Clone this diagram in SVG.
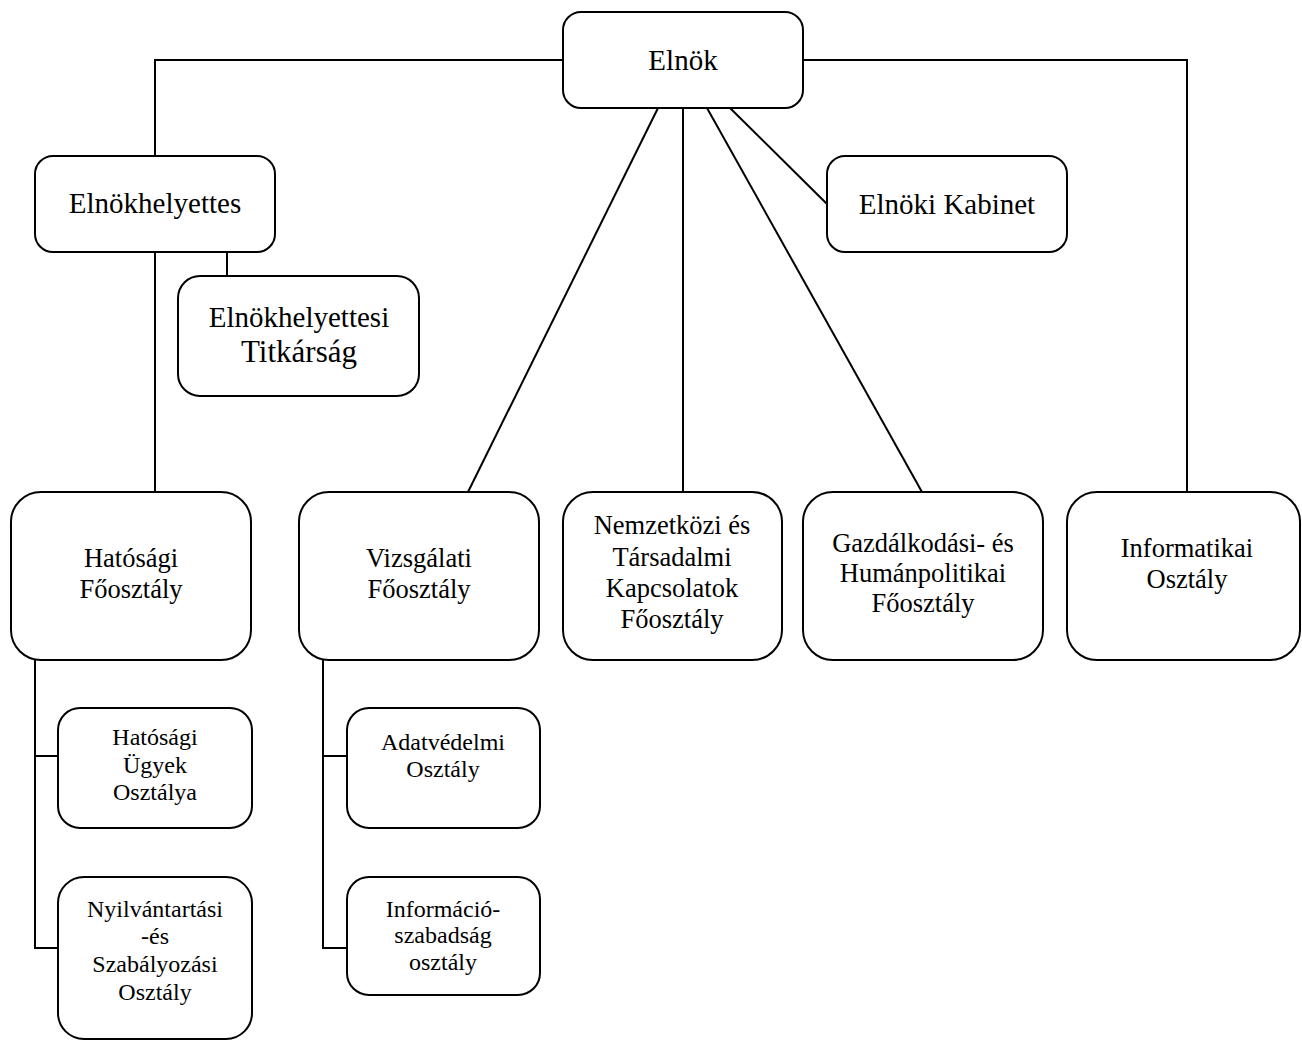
<svg xmlns="http://www.w3.org/2000/svg" width="1302" height="1041" viewBox="0 0 1302 1041">
<style>
.box{fill:#fff;stroke:#000;stroke-width:2}
.ln{fill:none;stroke:#000;stroke-width:2}
text{font-family:'Liberation Serif',serif;fill:#000;text-anchor:middle}
.t1{font-size:29px}
.t2{font-size:26.5px}
.t3{font-size:24px}
</style>
<rect width="1302" height="1041" fill="#fff"/>
<g id="connectors">
<polyline class="ln" points="563,60 155,60 155,156"/>
<polyline class="ln" points="803,60 1187,60 1187,492"/>
<line class="ln" x1="658" y1="108" x2="468" y2="492"/>
<line class="ln" x1="683" y1="108" x2="683" y2="492"/>
<line class="ln" x1="707" y1="108" x2="922" y2="492"/>
<line class="ln" x1="730" y1="108" x2="827" y2="204"/>
<line class="ln" x1="155" y1="252" x2="155" y2="492"/>
<line class="ln" x1="227" y1="252" x2="227" y2="276"/>
<polyline class="ln" points="35,660 35,948 58,948"/>
<line class="ln" x1="35" y1="756" x2="58" y2="756"/>
<polyline class="ln" points="323,660 323,948 347,948"/>
<line class="ln" x1="323" y1="756" x2="347" y2="756"/>
</g>
<g font-family="Liberation Serif, serif">
<g id="elnok">
<rect class="box" x="563" y="12" width="240" height="96" rx="18"/>
<text class="t1" x="683" y="70">Elnök</text>
</g>
<g id="elnokhelyettes">
<rect class="box" x="35" y="156" width="240" height="96" rx="18"/>
<text class="t1" x="155" y="213">Elnökhelyettes</text>
</g>
<g id="titkarsag">
<rect class="box" x="178" y="276" width="241" height="120" rx="22"/>
<text class="t1" x="299" y="327">Elnökhelyettesi</text>
<text class="t1" x="299" y="362" style="font-size:31px">Titkárság</text>
</g>
<g id="kabinet">
<rect class="box" x="827" y="156" width="240" height="96" rx="18"/>
<text class="t1" x="947" y="214">Elnöki Kabinet</text>
</g>
<g id="hatosagi-foosztaly">
<rect class="box" x="11" y="492" width="240" height="168" rx="30"/>
<text class="t2" x="131" y="567">Hatósági</text>
<text class="t2" x="131" y="598">Főosztály</text>
</g>
<g id="vizsgalati">
<rect class="box" x="299" y="492" width="240" height="168" rx="30"/>
<text class="t2" x="419" y="567">Vizsgálati</text>
<text class="t2" x="419" y="598">Főosztály</text>
</g>
<g id="nemzetkozi">
<rect class="box" x="563" y="492" width="219" height="168" rx="30"/>
<text class="t2" x="672" y="534">Nemzetközi és</text>
<text class="t2" x="672" y="566">Társadalmi</text>
<text class="t2" x="672" y="597">Kapcsolatok</text>
<text class="t2" x="672" y="628">Főosztály</text>
</g>
<g id="gazdalkodasi">
<rect class="box" x="803" y="492" width="240" height="168" rx="30"/>
<text class="t2" x="923" y="552">Gazdálkodási- és</text>
<text class="t2" x="923" y="582">Humánpolitikai</text>
<text class="t2" x="923" y="612">Főosztály</text>
</g>
<g id="informatikai">
<rect class="box" x="1067" y="492" width="233" height="168" rx="30"/>
<text class="t2" x="1187" y="557">Informatikai</text>
<text class="t2" x="1187" y="588">Osztály</text>
</g>
<g id="hatosagi-ugyek">
<rect class="box" x="58" y="708" width="194" height="120" rx="22"/>
<text class="t3" x="155" y="745">Hatósági</text>
<text class="t3" x="155" y="773">Ügyek</text>
<text class="t3" x="155" y="800">Osztálya</text>
</g>
<g id="nyilvantartasi">
<rect class="box" x="58" y="877" width="194" height="162" rx="26"/>
<text class="t3" x="155" y="917">Nyilvántartási</text>
<text class="t3" x="155" y="944">-és</text>
<text class="t3" x="155" y="972">Szabályozási</text>
<text class="t3" x="155" y="1000">Osztály</text>
</g>
<g id="adatvedelmi">
<rect class="box" x="347" y="708" width="193" height="120" rx="22"/>
<text class="t3" x="443" y="750">Adatvédelmi</text>
<text class="t3" x="443" y="777">Osztály</text>
</g>
<g id="informacioszabadsag">
<rect class="box" x="347" y="877" width="193" height="118" rx="22"/>
<text class="t3" x="443" y="917">Információ-</text>
<text class="t3" x="443" y="943">szabadság</text>
<text class="t3" x="443" y="970">osztály</text>
</g>
</g>
</svg>
